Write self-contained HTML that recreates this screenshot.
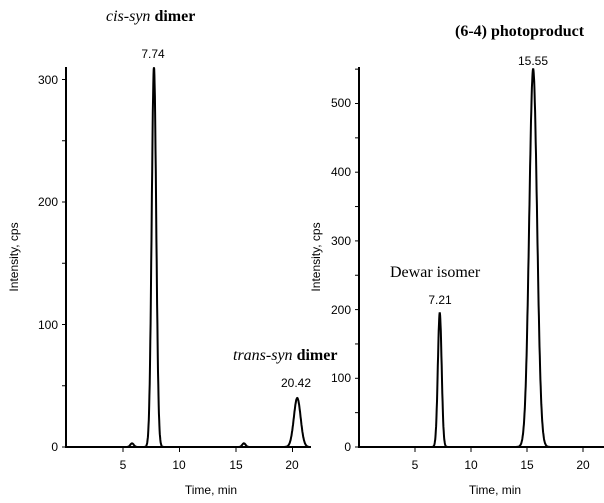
<!DOCTYPE html>
<html><head><meta charset="utf-8"><style>
body{margin:0;background:#fff;width:604px;height:503px;overflow:hidden}
svg{display:block}
.t{font-family:"Liberation Sans",sans-serif;font-size:12px;fill:#000}
.s{font-family:"Liberation Serif",serif;font-size:16px;fill:#000;font-weight:bold}
</style></head><body>
<svg id="g" width="604" height="503" viewBox="0 0 604 503">
<g stroke="#000" stroke-width="2" fill="none">
<line x1="66" y1="67" x2="66" y2="448"/><line x1="65" y1="447" x2="311" y2="447"/>
<line x1="359" y1="67" x2="359" y2="448"/><line x1="358" y1="447" x2="604" y2="447"/>
</g>
<g id="ticks" stroke="#000" stroke-width="1"></g>
<g class="t" text-anchor="end">
<text x="58" y="451">0</text><text x="58" y="329">100</text><text x="58" y="206">200</text><text x="58" y="84">300</text>
<text x="351" y="451">0</text><text x="351" y="382">100</text><text x="351" y="314">200</text><text x="351" y="245">300</text><text x="351" y="176">400</text><text x="351" y="107">500</text>
</g>
<g class="t" text-anchor="middle">
<text x="123" y="469">5</text><text x="179" y="469">10</text><text x="236" y="469">15</text><text x="292" y="469">20</text>
<text x="415" y="469">5</text><text x="471" y="469">10</text><text x="527" y="469">15</text><text x="583" y="469">20</text>
<text x="211" y="494">Time, min</text><text x="495" y="494">Time, min</text>
<text x="153" y="58">7.74</text><text x="296" y="387">20.42</text><text x="533" y="65">15.55</text><text x="440" y="304">7.21</text>
<text transform="translate(18,257) rotate(-90)">Intensity, cps</text>
<text transform="translate(320,257) rotate(-90)">Intensity, cps</text>
</g>
<text class="s" x="106" y="21"><tspan style="font-style:italic;font-weight:normal">cis-syn</tspan> dimer</text>
<text class="s" x="233" y="360"><tspan style="font-style:italic;font-weight:normal">trans-syn</tspan> dimer</text>
<text class="s" x="455" y="36">(6-4) photoproduct</text>
<text class="s" x="390" y="277" style="font-weight:normal">Dewar isomer</text>
<path id="p1" stroke="#000" stroke-width="2" fill="none"/>
<path id="p2" stroke="#000" stroke-width="2" fill="none"/>
</svg>
<script>
function g(t,m,h,s){return h*Math.exp(-0.5*((t-m)/s)*((t-m)/s));}
var d="";for(var t=0;t<=21.4;t+=0.02){var v=g(t,7.74,310,0.2)+g(t,20.42,40,0.3)+g(t,5.8,3,0.15)+g(t,15.7,3,0.15);
d+=(d?"L":"M")+(66.5+t*11.3).toFixed(1)+" "+(447-v*1.225).toFixed(1);}
document.getElementById("p1").setAttribute("d",d);
d="";for(var t=0;t<=21.8;t+=0.02){var v=g(t,7.21,195,0.17)+g(t,15.55,550,0.35);
d+=(d?"L":"M")+(359+t*11.2).toFixed(1)+" "+(447-v*0.687).toFixed(1);}
document.getElementById("p2").setAttribute("d",d);
var tk="";
for(var v=0;v<=300;v+=50){var y=447-v*1.225;tk+='<line x1="62" y1="'+y+'" x2="66" y2="'+y+'"/>';}
for(var v=0;v<=550;v+=50){var y=447-v*0.687;tk+='<line x1="355" y1="'+y+'" x2="359" y2="'+y+'"/>';}
[5,10,15,20].forEach(function(t){var x=66.5+t*11.3;tk+='<line x1="'+x+'" y1="447" x2="'+x+'" y2="452"/>';x=359+t*11.2;tk+='<line x1="'+x+'" y1="447" x2="'+x+'" y2="452"/>';});
document.getElementById("ticks").innerHTML=tk;
</script>
</body></html>
